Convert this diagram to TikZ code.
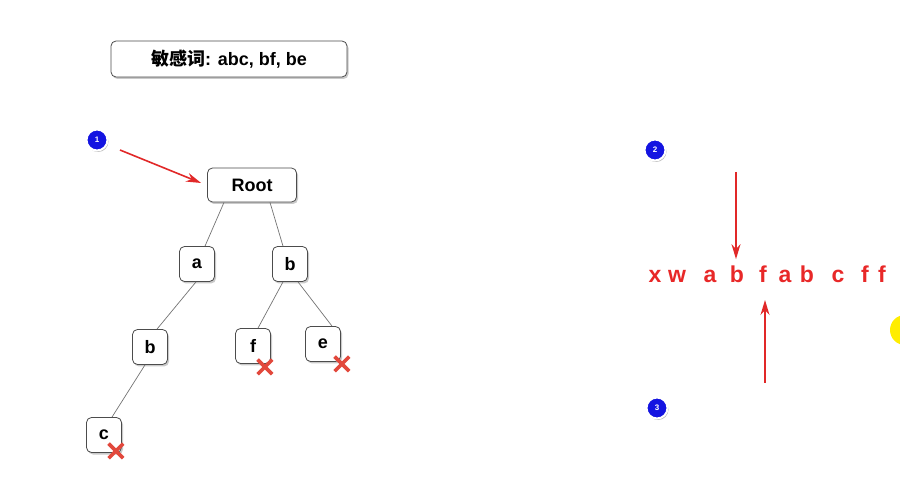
\documentclass[tikz,border=0pt]{standalone}
\usepackage{fontspec}
\setmainfont{Liberation Sans}
\newfontfamily\cjkfont{Noto Sans CJK SC}
\usetikzlibrary{arrows.meta,shadows,shapes.misc}
\definecolor{markred}{RGB}{226,72,60}
\definecolor{arrowred}{RGB}{225,40,40}
\definecolor{charred}{RGB}{232,40,40}
\definecolor{stepblue}{RGB}{20,20,225}
\tikzset{
  boxnode/.style = {draw=black!70, fill=white, rounded corners=5pt, line width=0.8pt,
    inner sep=0pt, font=\fontsize{18}{21}\selectfont\bfseries,
    drop shadow={shadow xshift=1.5pt, shadow yshift=-2pt, opacity=0.35, fill=black!60}},
  trie_n/.style = {boxnode, minimum width=35pt, minimum height=35pt},% noeud du trie
  trie_x/.style = {cross out, draw=markred, line width=3.6pt, minimum size=11pt,
    inner sep=0pt},% fin de mot
  trie_e/.style = {draw=black!55, line width=0.7pt},% arete
  stepdot/.style = {circle, fill=stepblue, draw=white, line width=2pt,
    minimum size=21pt, inner sep=0pt, text=white,
    font=\fontsize{8}{9}\selectfont\bfseries,
    drop shadow={shadow xshift=1pt, shadow yshift=-1.5pt, opacity=0.45, fill=black!60}},
  strchar/.style = {anchor=base, text=charred, inner sep=1pt,
    font=\fontsize{23}{26}\selectfont\bfseries},
  redarrow/.style = {-{Stealth[length=15pt,width=9pt]}, draw=arrowred, line width=1.6pt}
}
\begin{document}
\begin{tikzpicture}[x=1pt,y=-1pt]
\useasboundingbox (0,0) rectangle (900,478);
% titre
\node [boxnode, minimum width=236pt, minimum height=36pt] (words) at (229,59)
  {{\cjkfont 敏感词}: abc, bf, be};
% le trie
\node [boxnode, minimum width=89pt, minimum height=34pt] (root) at (252,185) {Root};
\node [trie_n] (a) at (197,264) {a};
\node [trie_n] (b) at (290,264) {b};
\node [trie_n] (ab) at (150,347) {b};
\node [trie_n] (bf) at (253,346) {f};
\node [trie_n] (be) at (323,344) {e};
\node [trie_n] (abc) at (104,435) {c};
\draw [trie_e] ([xshift=-28pt]root.south) -- ([xshift=8pt]a.north);
\draw [trie_e] ([xshift=18pt]root.south) -- ([xshift=-7pt]b.north);
\draw [trie_e] ([xshift=-1pt]a.south) -- ([xshift=7pt]ab.north);
\draw [trie_e] ([xshift=-7pt]b.south) -- ([xshift=5pt]bf.north);
\draw [trie_e] ([xshift=8pt]b.south) -- ([xshift=9pt]be.north);
\draw [trie_e] ([xshift=-5pt]ab.south) -- ([xshift=8pt]abc.north);
\node [trie_x] (xf) at ([xshift=-6pt,yshift=-3pt]bf.south east) {};
\node [trie_x] (xe) at ([xshift=1pt,yshift=-2pt]be.south east) {};
\node [trie_x] (xc) at ([xshift=-6pt,yshift=2pt]abc.south east) {};
% etape 1
\node [stepdot] (one) at (97,140) {1};
\coordinate (tail1) at (120,150);
\draw [redarrow] (tail1) -- ([xshift=-6pt,yshift=2pt]root.west);
% la chaine
\foreach \ch/\px [count=\i] in {x/655, w/677, a/710, b/737, f/763, a/785, b/807,
  c/838, f/865, f/882}
  \node [strchar] (s\i) at (\px,283) {\ch};
% etapes 2 et 3
\node [stepdot] (two) at (655,150) {2};
\node [stepdot] (three) at (657,408) {3};
\coordinate (tail2) at (736,172);
\coordinate (tail3) at (765,383);
\draw [redarrow] (tail2) -- ([xshift=-1pt,yshift=6pt]s4.north);
\draw [redarrow] (tail3) -- ([xshift=2pt,yshift=-17pt]s5.base);
% curseur
\fill [yellow!95!orange] (905,330) circle (15pt);
\end{tikzpicture}
\end{document}
